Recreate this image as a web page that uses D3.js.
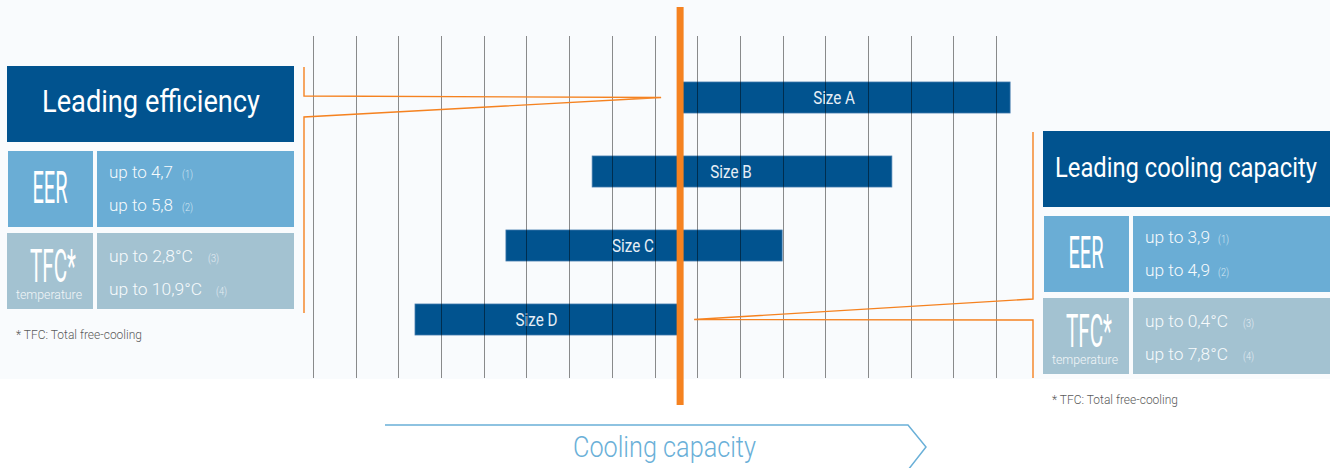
<!DOCTYPE html>
<html>
<head>
<meta charset="utf-8">
<script src="https://cdn.jsdelivr.net/npm/d3@7"></script>
<style>
  html, body { margin: 0; padding: 0; background: #ffffff; }
  svg { display: block; }
  text { font-family: Roboto, "Liberation Sans", sans-serif; font-weight: 400; }
</style>
</head>
<body>
<svg id="chart" width="1330" height="468"></svg>
<script>
// Unit sizes and their cooling capacity span (in grid steps)
const sizes = ["Size A", "Size B", "Size C", "Size D"];
const capacityFrom = [8.6, 6.54, 4.52, 2.39];
const capacityTo = [16.33, 13.56, 10.99, 8.6];
// Vertical grid ticks along the capacity axis
const gridTicks = d3.range(0, 17);
// Capacity where the reference marker sits
const referenceCapacity = 8.6;

// Panel texts
const leftTitle = "Leading efficiency";
const leftEER = ["up to 4,7", "up to 5,8"];
const leftTFC = ["up to 2,8°C", "up to 10,9°C"];
const rightTitle = "Leading cooling capacity";
const rightEER = ["up to 3,9", "up to 4,9"];
const rightTFC = ["up to 0,4°C", "up to 7,8°C"];
const noteRefs = ["(1)", "(2)", "(3)", "(4)"];
const footnote = "* TFC: Total free-cooling";
const axisTitle = "Cooling capacity";

const C = {
  navy: "#01538f",
  sky: "#6aadd5",
  grey: "#a3c2d1",
  orange: "#f58220",
  arrow: "#6ab0d8",
  bg: "#f9fbfd",
  note: "#5a5a5a"
};

const svg = d3.select("#chart");

// light backdrop behind the chart area
svg.append("rect").attr("x", 0).attr("y", 0).attr("width", 1330).attr("height", 379).attr("fill", C.bg);

const x = d3.scaleLinear().domain([0, 16]).range([313, 996]);
const y = d3.scaleBand().domain(sizes).range([82, 82 + 3 * 74 + 31])
  .paddingInner(1 - 31 / 74).paddingOuter(0);

// text helper: optional fixed width gives the condensed look
function label(g, o) {
  const t = g.append("text")
    .attr("x", o.x).attr("y", o.y)
    .attr("text-anchor", o.anchor || "start")
    .attr("font-size", o.size)
    .attr("fill", o.fill || "#ffffff")
    .text(o.text);
  if (o.weight) t.style("font-weight", o.weight);
  if (o.width) t.attr("textLength", o.width).attr("lengthAdjust", "spacingAndGlyphs");
  else if (o.squeeze) {
    const w = t.node().getComputedTextLength();
    t.attr("textLength", w * o.squeeze).attr("lengthAdjust", "spacingAndGlyphs");
  }
  return t;
}

// ---- bars ----
const bars = sizes.map((s, i) => ({ name: s, from: capacityFrom[i], to: capacityTo[i] }));
const gBars = svg.append("g");
gBars.selectAll("rect").data(bars).join("rect")
  .attr("x", d => x(d.from))
  .attr("y", d => y(d.name))
  .attr("width", d => x(d.to) - x(d.from))
  .attr("height", y.bandwidth())
  .attr("fill", C.navy)
  .attr("stroke", "#3f78ab")
  .attr("stroke-width", 0.8);

bars.forEach(d => {
  label(gBars, {
    x: (x(d.from) + x(d.to)) / 2 - 11,
    y: y(d.name) + y.bandwidth() / 2 + 6.5,
    text: d.name, size: 19, anchor: "middle", fill: "#e6eef6", squeeze: 0.8
  });
});

// ---- grid lines (drawn over bars, semi-transparent) ----
svg.append("g").selectAll("line").data(gridTicks).join("line")
  .attr("x1", d => Math.round(x(d)) + 0.5)
  .attr("x2", d => Math.round(x(d)) + 0.5)
  .attr("y1", 36).attr("y2", 378)
  .attr("stroke", "#000").attr("stroke-opacity", 0.45).attr("stroke-width", 1);

// ---- connectors from the panels to the reference marker ----
const refX = x(referenceCapacity);
const yA = y("Size A") + y.bandwidth() / 2;
const yD = y("Size D") + y.bandwidth() / 2;
svg.append("path")
  .attr("d", `M304,67 V96 L${refX - 19},${yA} L304,117 V313`)
  .attr("fill", "none").attr("stroke", C.orange).attr("stroke-width", 1.4);
svg.append("path")
  .attr("d", `M1033,132 V299 L${refX + 14},${yD} L1033,320 V378`)
  .attr("fill", "none").attr("stroke", C.orange).attr("stroke-width", 1.4);

// ---- reference marker ----
svg.append("rect")
  .attr("x", refX - 3.5).attr("y", 7).attr("width", 7).attr("height", 398)
  .attr("fill", C.orange);

// ---- side panels ----
function panel(o) {
  const g = svg.append("g");
  // title block
  g.append("rect").attr("x", o.x0).attr("y", o.titleY).attr("width", o.x1 - o.x0).attr("height", 76).attr("fill", C.navy);
  label(g, { x: o.titleCx, y: o.titleY + o.titleBase, text: o.title, size: o.titleSize, width: o.titleW, anchor: "middle" });
  // EER row
  const r1 = o.titleY + 85;
  g.append("rect").attr("x", o.x0 + 1).attr("y", r1).attr("width", 85).attr("height", 76).attr("fill", C.sky);
  g.append("rect").attr("x", o.x0 + 90).attr("y", r1).attr("width", o.x1 - o.x0 - 90).attr("height", 76).attr("fill", C.sky);
  label(g, { x: o.x0 + 43, y: r1 + 52, text: "EER", size: 44, width: 35, anchor: "middle" });
  // TFC row
  const r2 = r1 + 82;
  g.append("rect").attr("x", o.x0).attr("y", r2).attr("width", 86).attr("height", 76).attr("fill", C.grey);
  g.append("rect").attr("x", o.x0 + 90).attr("y", r2).attr("width", o.x1 - o.x0 - 90).attr("height", 76).attr("fill", C.grey);
  label(g, { x: o.x0 + 46, y: r2 + 49, text: "TFC*", size: 46, width: 46, anchor: "middle" });
  label(g, { x: o.x0 + 42, y: r2 + 66, text: "temperature", size: 13, width: 66, anchor: "middle", fill: "#f2f6f8", weight: 300 });

  const vx = o.x0 + 102;
  const rows = [
    { t: o.eer[0], by: r1 + 27, ref: noteRefs[0], rx: o.refX[0] },
    { t: o.eer[1], by: r1 + 60, ref: noteRefs[1], rx: o.refX[1] },
    { t: o.tfc[0], by: r2 + 29, ref: noteRefs[2], rx: o.refX[2] },
    { t: o.tfc[1], by: r2 + 62, ref: noteRefs[3], rx: o.refX[3] }
  ];
  rows.forEach((r, i) => {
    label(g, { x: vx, y: r.by, text: r.t, size: 17, width: o.valW[i], fill: "#f6fafc", weight: 300 });
    label(g, { x: r.rx, y: r.by, text: r.ref, size: 11, width: 11, fill: i < 2 ? "#d3e7f3" : "#e3ecf1", weight: 300 });
  });
  label(g, { x: o.x0 + 9, y: r2 + 106, text: footnote, size: 13, width: 126, fill: C.note, weight: 300 });
}

panel({
  x0: 7, x1: 294, titleY: 66, titleCx: 151, titleBase: 46, title: leftTitle, titleSize: 31, titleW: 218,
  eer: leftEER, tfc: leftTFC, valW: [64, 64, 84, 93], refX: [182, 182, 208, 216]
});
panel({
  x0: 1043, x1: 1330, titleY: 131, titleCx: 1186, titleBase: 46, title: rightTitle, titleSize: 28, titleW: 262,
  eer: rightEER, tfc: rightTFC, valW: [65, 65, 83, 83], refX: [1218, 1218, 1243, 1243]
});

// ---- capacity direction arrow ----
svg.append("path")
  .attr("d", "M385,425 H908 L926,447 L908,470")
  .attr("fill", "none").attr("stroke", C.arrow).attr("stroke-width", 1.5);
label(svg, { x: 664.5, y: 457, text: axisTitle, size: 30, width: 183, anchor: "middle", fill: C.arrow, weight: 300 });
</script>
</body>
</html>
